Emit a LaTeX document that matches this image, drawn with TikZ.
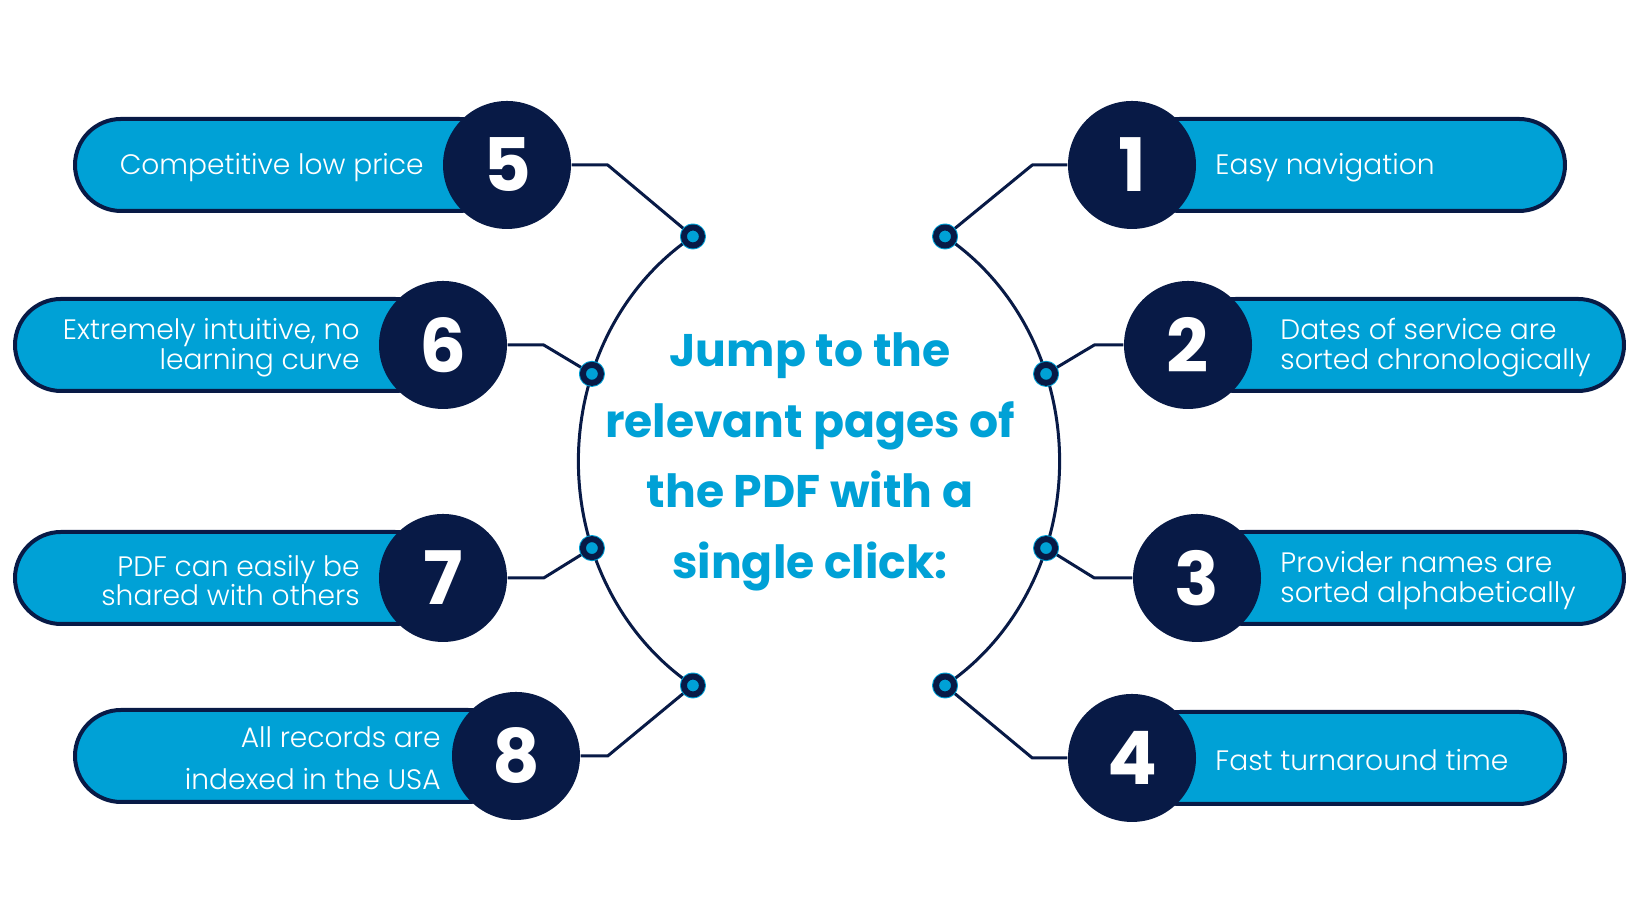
\documentclass[tikz,border=0pt]{standalone}
\usepackage{fontspec}
\setmainfont{Poppins}
\newfontfamily\lightfont{Poppins Light}
\usepackage{tikz}
\usetikzlibrary{positioning, calc}
\definecolor{pdf_cyan}{RGB}{0, 161, 214}
\definecolor{pdf_navy}{RGB}{8, 26, 70}

\begin{document}
\begin{tikzpicture}[x=0.1mm, y=0.1mm, line join=round,
    pill/.style={draw=pdf_navy, line width=0.4mm, fill=pdf_cyan, rounded corners=4.6mm,
      minimum height=9.2mm, inner sep=0pt},
    num/.style={circle, fill=pdf_navy, minimum size=12.8mm, inner sep=0pt, text=white,
      font=\bfseries\fontsize{21}{21}\selectfont},
    item/.style={text=white, inner sep=0pt, yshift=-0.25mm,
      font=\lightfont\fontsize{8.0}{8.4}\selectfont},
    link/.style={draw=pdf_navy, line width=0.3mm},
    dot/.style={circle, fill=pdf_cyan, draw=pdf_navy, line width=0.6mm, minimum size=1.8mm,
      inner sep=0pt, preaction={draw=pdf_cyan, line width=0.8mm}}]
  \useasboundingbox (0,0) rectangle (1640,924);

  % hub ring and the points on it
  \coordinate (hub) at (819,463);
  \draw[link] ($(hub)+(121.6:24.06mm and 26.36mm)$)
    arc[start angle=121.6, end angle=238.4, x radius=24.06mm, y radius=26.36mm];
  \draw[link] ($(hub)+(58.4:24.06mm and 26.36mm)$)
    arc[start angle=58.4, end angle=-58.4, x radius=24.06mm, y radius=26.36mm];
  \coordinate (j5) at ($(hub)+(121.6:24.06mm and 26.36mm)$);
  \coordinate (j6) at ($(hub)+(160.7:24.06mm and 26.36mm)$);
  \coordinate (j7) at ($(hub)+(199.3:24.06mm and 26.36mm)$);
  \coordinate (j8) at ($(hub)+(238.4:24.06mm and 26.36mm)$);
  \coordinate (j1) at ($(hub)+(58.4:24.06mm and 26.36mm)$);
  \coordinate (j2) at ($(hub)+(19.3:24.06mm and 26.36mm)$);
  \coordinate (j3) at ($(hub)+(-19.3:24.06mm and 26.36mm)$);
  \coordinate (j4) at ($(hub)+(-58.4:24.06mm and 26.36mm)$);

  \node[font=\bfseries\fontsize{13}{20.1}\selectfont, text=pdf_cyan, align=center] (title)
    at (810,462) {Jump to the\\relevant pages of\\the PDF with a\\single click:};

  % pills
  \coordinate (n5) at (507,759);
  \coordinate (n6) at (443,579);
  \coordinate (n7) at (443,346);
  \coordinate (n8) at (516,168);
  \coordinate (n1) at (1132,759);
  \coordinate (n2) at (1188,579);
  \coordinate (n3) at (1197,346);
  \coordinate (n4) at (1132,166);
  \node[pill, minimum width=43.0mm, anchor=east] (p5) at (n5) {};
  \node[pill, minimum width=42.6mm, anchor=east] (p6) at (n6) {};
  \node[pill, minimum width=42.6mm, anchor=east] (p7) at (n7) {};
  \node[pill, minimum width=43.9mm, anchor=east] (p8) at (n8) {};
  \node[pill, minimum width=43.1mm, anchor=west] (p1) at (n1) {};
  \node[pill, minimum width=43.4mm, anchor=west] (p2) at (n2) {};
  \node[pill, minimum width=42.5mm, anchor=west] (p3) at (n3) {};
  \node[pill, minimum width=43.1mm, anchor=west] (p4) at (n4) {};

  \node[num] (c5) at (n5) {5};
  \node[num] (c6) at (n6) {6};
  \node[num] (c7) at (n7) {7};
  \node[num] (c8) at (n8) {8};
  \node[num] (c1) at (n1) {1};
  \node[num] (c2) at (n2) {2};
  \node[num] (c3) at (n3) {3};
  \node[num] (c4) at (n4) {4};

  \draw[link] (c5.east) -- ++(3.6mm,0) -- (j5);
  \draw[link] (c6.east) -- ++(3.6mm,0) -- (j6);
  \draw[link] (c7.east) -- ++(3.6mm,0) -- (j7);
  \draw[link] (c8.east) -- ++(2.7mm,0) -- (j8);
  \draw[link] (c1.west) -- ++(-3.5mm,0) -- (j1);
  \draw[link] (c2.west) -- ++(-2.9mm,0) -- (j2);
  \draw[link] (c3.west) -- ++(-3.8mm,0) -- (j3);
  \draw[link] (c4.west) -- ++(-3.5mm,0) -- (j4);

  \foreach \j in {1,...,8}
    \node[dot] (dot\j) at (j\j) {};

  % texts
  \node[item, left=1.8mm of c5] {Competitive low price};
  \node[item, left=1.8mm of c6, align=right] {Extremely intuitive, no\\learning curve};
  \node[item, left=1.8mm of c7, align=right] {PDF can easily be\\shared with others};
  \node[item, left=1.0mm of c8, align=right, yshift=0.05mm,
    font=\lightfont\fontsize{8.0}{12}\selectfont] {All records are\\indexed in the USA};
  \node[item, right=1.8mm of c1] {Easy navigation};
  \node[item, right=2.7mm of c2, align=left] {Dates of service are\\sorted chronologically};
  \node[item, right=1.8mm of c3, align=left] {Provider names are\\sorted alphabetically};
  \node[item, right=1.8mm of c4] {Fast turnaround time};
\end{tikzpicture}
\end{document}
